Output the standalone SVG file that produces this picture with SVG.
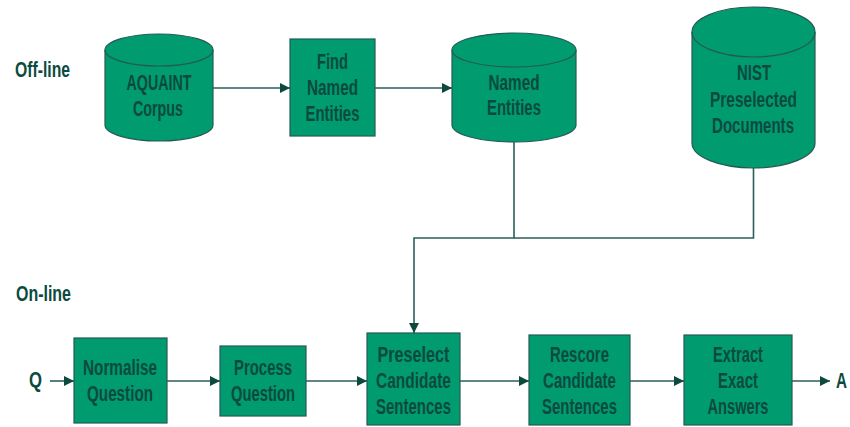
<svg xmlns="http://www.w3.org/2000/svg" width="850" height="427" viewBox="0 0 850 427">
<style>
.box{fill:#009b6f;stroke:#245a55;stroke-width:1.2}
.inner{fill:none;stroke:#245a55;stroke-width:1.2}
.t{font-family:"Liberation Sans",Arial,sans-serif;font-size:22px;font-weight:bold;fill:#0c4a40;text-anchor:middle}
.lbl{font-family:"Liberation Sans",Arial,sans-serif;font-size:22px;font-weight:bold;fill:#0c4a40}
.c{fill:none;stroke:#2b5f5a;stroke-width:1.6}
</style>
<defs>
<marker id="ah" markerWidth="10" markerHeight="10" refX="10" refY="5" orient="auto" markerUnits="userSpaceOnUse">
<path d="M0,0 L10,5 L0,10 Z" fill="#0c4a40"/>
</marker>
</defs>
<g id="offline-label"><text class="lbl" x="15" y="77" textLength="55" lengthAdjust="spacingAndGlyphs">Off-line</text></g>
<g id="online-label"><text class="lbl" x="16" y="301" textLength="55" lengthAdjust="spacingAndGlyphs">On-line</text></g>
<g id="q"><text class="lbl" x="29" y="387" textLength="13" lengthAdjust="spacingAndGlyphs">Q</text></g>
<g id="a"><text class="lbl" x="836" y="388" textLength="11" lengthAdjust="spacingAndGlyphs">A</text></g>

<g id="aquaint">
<path class="box" d="M105,50 L105,125 A54,16 0 0 0 213,125 L213,50 A54,16 0 0 0 105,50 Z"/>
<path class="inner" d="M105,50 A54,16 0 0 0 213,50"/>
<text class="t" x="159" y="90" textLength="65" lengthAdjust="spacingAndGlyphs">AQUAINT</text>
<text class="t" x="158" y="116" textLength="50" lengthAdjust="spacingAndGlyphs">Corpus</text>
</g>
<g id="find">
<rect class="box" x="290" y="39" width="85" height="97"/>
<text class="t" x="332.5" y="69" textLength="31" lengthAdjust="spacingAndGlyphs">Find</text>
<text class="t" x="332.5" y="95" textLength="51" lengthAdjust="spacingAndGlyphs">Named</text>
<text class="t" x="332.5" y="121" textLength="54" lengthAdjust="spacingAndGlyphs">Entities</text>
</g>
<g id="named">
<path class="box" d="M452,50 L452,125 A62,17 0 0 0 576,125 L576,50 A62,17 0 0 0 452,50 Z"/>
<path class="inner" d="M452,50 A62,17 0 0 0 576,50"/>
<text class="t" x="514" y="90" textLength="51" lengthAdjust="spacingAndGlyphs">Named</text>
<text class="t" x="514" y="115" textLength="54" lengthAdjust="spacingAndGlyphs">Entities</text>
</g>
<g id="nist">
<path class="box" d="M692,32 L692,143 A61.5,25 0 0 0 815,143 L815,32 A61.5,25 0 0 0 692,32 Z"/>
<path class="inner" d="M692,32 A61.5,25 0 0 0 815,32"/>
<text class="t" x="754" y="80" textLength="34" lengthAdjust="spacingAndGlyphs">NIST</text>
<text class="t" x="753.5" y="107" textLength="87" lengthAdjust="spacingAndGlyphs">Preselected</text>
<text class="t" x="753" y="133" textLength="82" lengthAdjust="spacingAndGlyphs">Documents</text>
</g>
<g id="normalise">
<rect class="box" x="74" y="338" width="93" height="85"/>
<text class="t" x="120" y="375" textLength="74" lengthAdjust="spacingAndGlyphs">Normalise</text>
<text class="t" x="120" y="401" textLength="66" lengthAdjust="spacingAndGlyphs">Question</text>
</g>
<g id="process">
<rect class="box" x="220" y="346" width="86" height="70"/>
<text class="t" x="263" y="375" textLength="58" lengthAdjust="spacingAndGlyphs">Process</text>
<text class="t" x="263" y="401" textLength="64" lengthAdjust="spacingAndGlyphs">Question</text>
</g>
<g id="preselect">
<rect class="box" x="367" y="333" width="93" height="92"/>
<text class="t" x="413.5" y="362" textLength="72" lengthAdjust="spacingAndGlyphs">Preselect</text>
<text class="t" x="413.5" y="388" textLength="75" lengthAdjust="spacingAndGlyphs">Candidate</text>
<text class="t" x="413.5" y="414" textLength="75" lengthAdjust="spacingAndGlyphs">Sentences</text>
</g>
<g id="rescore">
<rect class="box" x="529" y="335" width="101" height="90"/>
<text class="t" x="579.5" y="362" textLength="59" lengthAdjust="spacingAndGlyphs">Rescore</text>
<text class="t" x="579.5" y="388" textLength="73" lengthAdjust="spacingAndGlyphs">Candidate</text>
<text class="t" x="579.5" y="414" textLength="75" lengthAdjust="spacingAndGlyphs">Sentences</text>
</g>
<g id="extract">
<rect class="box" x="684" y="335" width="108" height="90"/>
<text class="t" x="738" y="362" textLength="50" lengthAdjust="spacingAndGlyphs">Extract</text>
<text class="t" x="738" y="388" textLength="40" lengthAdjust="spacingAndGlyphs">Exact</text>
<text class="t" x="738" y="414" textLength="61" lengthAdjust="spacingAndGlyphs">Answers</text>
</g>

<g id="connectors">
<line class="c" x1="213" y1="88" x2="290" y2="88" marker-end="url(#ah)"/>
<line class="c" x1="375" y1="88" x2="452" y2="88" marker-end="url(#ah)"/>
<polyline class="c" points="514,142 514,238 414,238 414,333" marker-end="url(#ah)"/>
<polyline class="c" points="753.5,168 753.5,238 514,238"/>
<line class="c" x1="50" y1="381" x2="74" y2="381" marker-end="url(#ah)"/>
<line class="c" x1="167" y1="381" x2="220" y2="381" marker-end="url(#ah)"/>
<line class="c" x1="306" y1="381" x2="367" y2="381" marker-end="url(#ah)"/>
<line class="c" x1="460" y1="381" x2="529" y2="381" marker-end="url(#ah)"/>
<line class="c" x1="630" y1="381" x2="684" y2="381" marker-end="url(#ah)"/>
<line class="c" x1="792" y1="381" x2="830" y2="381" marker-end="url(#ah)"/>
</g>
</svg>
